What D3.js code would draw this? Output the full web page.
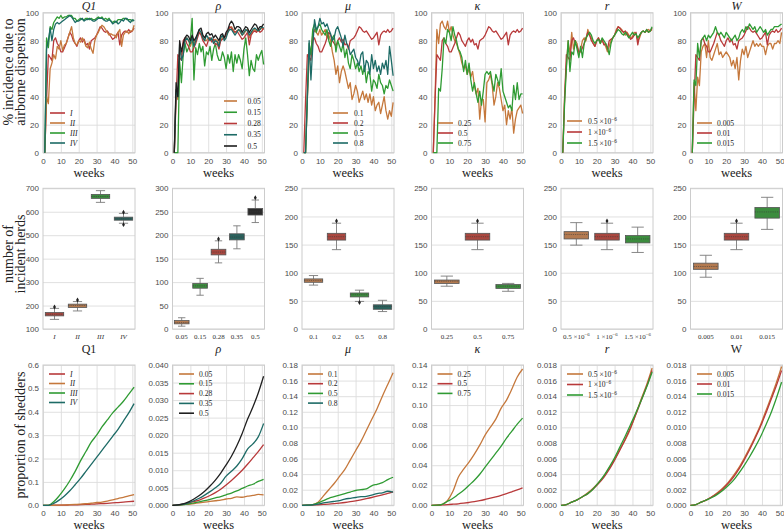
<!DOCTYPE html>
<html><head><meta charset="utf-8">
<script src="https://cdn.jsdelivr.net/npm/d3@7"></script>
<style>body{margin:0;background:#fff}</style>
</head><body><svg id="c" width="784" height="530"></svg>
<script>
// ---------------- DATA ----------------
const weeks = Array.from({length:51},(_, i)=>i+1);
const weeksB = [0,3,6,9,12,15,18,21,24,27,30,33,36,39,42,45,48,51];

// % incidence due to airborne dispersion (row 1)
const airBase = [0,38,70,68,66,80,82,78,76,72,72,75,78,82,86,84,80,78,76,80,82,79,81,77,78,74,80,81,82,84,87,90,89,87,86,87,85,83,81,82,84,86,77,84,86,87,86,88,86,87,89];
const airQ1_II = [0,40,35,60,64,70,67,76,74,80,73,77,78,82,86,90,82,78,77,80,79,82,80,76,75,79,74,71,80,84,86,89,91,90,88,86,84,85,84,84,82,86,88,76,84,86,87,85,87,87,91];
const airQ1_III = [0,82,75,90,88,93,95,97,96,98,96,97,97,98,98,98,96,96,94,95,96,95,95,96,96,95,96,95,95,96,97,96,97,95,96,95,96,94,93,94,93,95,95,95,96,96,95,95,95,94,95];
const airQ1_IV = [0,74,80,89,80,88,92,93,92,93,94,95,96,97,98,97,95,93,94,94,95,96,94,95,95,96,95,94,94,95,96,96,96,95,94,94,95,94,92,93,94,92,93,95,94,96,96,94,93,95,94];
const airRho_005 = [0,42,38,72,70,76,80,82,80,76,80,78,81,84,86,85,82,80,80,82,82,80,80,81,80,78,80,82,82,84,86,89,90,88,86,87,88,86,84,85,87,88,82,85,87,88,87,87,88,89,88];
const airRho_015 = [0,0,0,65,50,70,78,72,75,80,96,52,75,70,78,72,76,62,72,70,76,66,74,78,70,66,66,72,68,60,70,64,72,58,70,64,70,66,60,74,82,70,55,66,60,58,70,66,70,73,63];
const airRho_035 = [0,45,40,78,66,70,80,82,80,78,82,76,80,84,88,86,82,80,84,82,80,82,78,80,79,76,82,84,80,82,86,88,88,86,84,86,88,87,84,86,88,87,84,86,88,89,88,87,88,90,89];
const airRho_05 = [0,50,40,80,72,78,82,84,83,80,84,80,82,85,88,89,84,82,85,86,84,85,82,84,82,80,84,85,82,86,88,92,94,92,88,90,90,89,86,88,90,89,86,88,90,92,91,88,90,90,92];
const airMu_01 = [0,0,38,68,72,84,88,86,84,88,84,86,88,82,84,80,72,66,56,62,50,58,62,58,52,46,50,38,42,48,44,36,40,44,38,42,36,42,34,40,30,34,36,28,34,40,30,24,30,26,36];
const airMu_05 = [0,0,40,78,70,88,92,86,90,92,88,86,84,88,80,76,82,84,72,80,76,72,78,68,74,64,60,70,66,60,64,58,62,56,62,50,58,56,44,52,50,46,56,50,48,42,48,46,52,48,44];
const airMu_08 = [0,0,40,80,52,75,95,88,90,96,92,93,90,92,88,85,80,82,88,90,86,82,76,84,78,76,70,72,74,68,66,62,70,72,58,66,64,56,70,60,66,58,62,56,64,60,66,56,76,66,55];
const airKappa_025 = [0,40,88,78,92,94,90,88,94,86,90,84,80,78,74,70,64,60,62,56,60,54,58,48,42,46,24,38,38,22,50,52,56,48,34,40,50,46,38,30,34,20,30,24,32,14,24,30,32,34,28];
const airKappa_075 = [0,0,0,46,44,60,82,78,88,86,80,90,84,80,74,72,68,58,66,56,64,52,44,50,42,36,44,34,44,56,58,56,58,50,44,56,52,48,60,44,40,36,32,34,30,48,38,50,38,42,42];
const airR_05 = [0,40,62,80,70,86,74,80,78,70,74,80,82,80,88,84,82,78,76,80,82,78,80,78,76,72,76,80,82,84,88,90,89,88,86,84,86,84,82,83,86,85,80,82,86,87,86,87,88,87,88];
const airR_15 = [0,35,60,80,58,72,70,80,74,68,76,68,78,82,84,86,84,80,78,80,81,78,82,80,78,75,70,78,82,84,86,88,87,85,84,86,84,82,84,86,84,85,82,84,86,87,86,88,86,87,90];
const airW_0005 = [0,50,30,54,48,72,76,78,68,80,68,66,70,74,78,70,72,68,70,72,70,68,62,66,60,68,52,66,74,70,76,68,72,76,80,76,78,76,78,76,76,70,76,78,78,74,78,78,80,78,86];
const airW_0015 = [0,52,48,78,68,80,82,84,80,84,82,84,86,90,86,84,86,84,82,86,84,82,80,82,84,80,82,86,88,86,90,88,92,90,88,90,86,88,90,88,86,88,84,86,88,88,90,90,90,91,92];

// proportion of shedders (row 3)
const shedBase = [0,0.0001,0.0004,0.0007,0.0011,0.0015,0.0021,0.0028,0.0036,0.0046,0.0058,0.0071,0.0085,0.0100,0.0117,0.0135,0.0153,0.0173];
const shedQ1_II = [0,0,0.0003,0.0008,0.0015,0.0025,0.0037,0.005,0.0068,0.0088,0.012,0.014,0.018,0.023,0.029,0.034,0.04,0.046];
const shedQ1_III = [0,0,0.015,0.04,0.07,0.105,0.145,0.19,0.23,0.27,0.30,0.335,0.365,0.395,0.42,0.445,0.475,0.505];
const shedQ1_IV = [0,0,0.008,0.022,0.04,0.062,0.088,0.115,0.145,0.175,0.205,0.235,0.265,0.295,0.325,0.36,0.395,0.435];
const shedRho_005 = [0,0,0.0002,0.0003,0.0005,0.0007,0.0009,0.0011,0.0013,0.0015,0.0018,0.002,0.0024,0.0023,0.0026,0.0028,0.0031,0.003];
const shedRho_015 = [0,0,0.0002,0.0004,0.0007,0.001,0.0013,0.0017,0.0021,0.0025,0.003,0.0035,0.0041,0.0048,0.0055,0.006,0.0068,0.0074];
const shedRho_035 = [0,0.0001,0.0003,0.0007,0.0013,0.002,0.0029,0.0039,0.005,0.0063,0.0083,0.0097,0.0112,0.0133,0.016,0.0175,0.0195,0.0233];
const shedRho_05 = [0,0.0001,0.0004,0.001,0.0018,0.0028,0.004,0.0055,0.0072,0.0092,0.0115,0.014,0.017,0.0205,0.0245,0.028,0.032,0.0368];
const shedMu_01 = [0,0.0002,0.001,0.004,0.012,0.02,0.028,0.037,0.046,0.058,0.07,0.082,0.096,0.11,0.124,0.14,0.155,0.17];
const shedMu_05 = [0,0.0002,0.0008,0.003,0.006,0.009,0.011,0.013,0.015,0.017,0.019,0.02,0.021,0.025,0.027,0.029,0.033,0.036];
const shedMu_08 = [0,0.0001,0.0005,0.0015,0.003,0.004,0.005,0.006,0.008,0.009,0.01,0.011,0.0115,0.013,0.015,0.016,0.018,0.017];
const shedKappa_025 = [0,0.0002,0.001,0.005,0.014,0.028,0.036,0.043,0.051,0.06,0.07,0.078,0.086,0.097,0.105,0.116,0.128,0.136];
const shedKappa_075 = [0,0.0001,0.001,0.004,0.007,0.011,0.015,0.02,0.025,0.031,0.038,0.045,0.052,0.059,0.067,0.074,0.081,0.087];
const shedR_05 = [0,0.0001,0.0004,0.0007,0.0011,0.0016,0.0022,0.0029,0.0037,0.0048,0.0059,0.0072,0.0084,0.0099,0.0118,0.0137,0.0155,0.0176];
const shedR_15 = [0,0.0001,0.0004,0.0007,0.0011,0.0015,0.0021,0.0029,0.0038,0.0049,0.0061,0.0075,0.0089,0.0104,0.0119,0.0135,0.0152,0.0171];
const shedW_0005 = [0,0.0001,0.0004,0.0007,0.0011,0.0016,0.0022,0.0029,0.0038,0.0048,0.006,0.0073,0.0087,0.0102,0.012,0.0138,0.0157,0.0178];
const shedW_0015 = [0,0.0001,0.0004,0.0007,0.001,0.0014,0.0019,0.0025,0.0032,0.0041,0.0051,0.0062,0.0074,0.0087,0.0102,0.0118,0.0137,0.0158];

// number of incident herds (row 2) : [low whisker, q1, median, q3, high whisker]
const boxBase = [141,158,164,170,188];
const boxQ1 = [[141,156,163,170,188],[177,192,200,206,217],[640,657,665,674,690],[551,564,570,577,593]];
const flierQ1 = [[194],[224],[],[598,545]];
const boxRho = [[6,11,14,18,24],[72,87,92,97,108],boxBase,[171,190,196,203,220],[227,243,250,257,275]];
const flierRho = [[],[],[192],[],[280]];
const boxMu = [[78,83,86,89,95],boxBase,[49,57,61,64,69],[31,35,40,43,51]];
const flierMu = [[],[192],[47],[]];
const boxKappa = [[76,81,85,87,94],boxBase,[67,72,76,79,81]];
const flierKappa = [[],[192],[]];
const boxR = [[149,160,168,173,189],boxBase,[136,153,160,166,181]];
const flierR = [[],[192],[]];
const boxW = [[92,106,111,117,131],boxBase,[177,197,208,216,234]];
const flierW = [[],[192],[]];

// labels
const lblQ1 = ["I","II","III","IV"];
const lblRho = ["0.05","0.15","0.28","0.35","0.5"];
const lblMu = ["0.1","0.2","0.5","0.8"];
const lblKappa = ["0.25","0.5","0.75"];
const lblR = ["0.5 ×10^−6","1 ×10^−6","1.5 ×10^−6"];
const lblW = ["0.005","0.01","0.015"];
const titlesTop = ["Q1","ρ","μ","κ","r","W"];
const titlesBot = ["Q1","ρ","μ","κ","r","W"];
const titlesBotItalic = [false,true,true,true,true,false];
const xTicks = [0,10,20,30,40,50];
const yTicksAir = [0,20,40,60,80,100];

// ---------------- STYLE ----------------
const COL = {orange:"#c5783c", red:"#b8393a", green:"#2f9b33", teal:"#1d6b66", black:"#1f1f1f"};
const BOXCOL = {orange:"#b37a50", red:"#a9473f", green:"#3c8c3e", teal:"#2a625d", black:"#2b2b2b"};
const SERIF = "'Liberation Serif','Times New Roman',serif";
const SANS = "'Liberation Sans',Arial,sans-serif";
const GRID = "#dcdcdc", SPINE = "#cccccc", TICK = "#4a4a4a";
const L0 = 43, DX = 129.5, PW = 92;
const R1 = {top:12.7, bot:152.7}, R2 = {top:188.3, bot:329}, R3 = {top:365, bot:505.3};

const svg = d3.select("#c");
svg.append("rect").attr("width",784).attr("height",530).attr("fill","#fff");

function richText(sel, str, size, italic) {
  const parts = str.split("^");
  sel.attr("font-family", SERIF).attr("font-size", size).attr("font-style", italic ? "italic" : "normal");
  sel.append("tspan").text(parts[0]);
  if (parts.length > 1) sel.append("tspan").attr("font-size", size*0.7).attr("dy", -size*0.4).text(parts[1]);
}

function gridAxes(g, x, y, R, yVals, fmt, xVals, vgrid, xPad) {
  const left = x.range()[0], right = x.range()[1];
  const ya = g.append("g").attr("transform", `translate(${left},0)`)
    .call(d3.axisLeft(y).tickValues(yVals).tickSize(-(right-left)).tickPadding(4).tickFormat(fmt));
  ya.select(".domain").remove();
  ya.selectAll("line").attr("stroke", GRID).attr("stroke-width", 0.9);
  ya.selectAll("text").attr("font-family", SANS).attr("font-size", 8).attr("fill", TICK);
  if (xVals) {
    const xa = g.append("g").attr("transform", `translate(0,${R.bot})`)
      .call(d3.axisBottom(x).tickValues(xVals).tickSize(-(R.bot-R.top)).tickPadding(xPad).tickFormat(d3.format("d")));
    xa.select(".domain").remove();
    xa.selectAll("line").attr("stroke", vgrid ? GRID : "none").attr("stroke-width", 0.9);
    xa.selectAll("text").attr("font-family", SANS).attr("font-size", 8).attr("fill", TICK);
  }
}

function frame(g, left, R) {
  g.append("rect").attr("x", left).attr("y", R.top).attr("width", PW).attr("height", R.bot-R.top)
    .attr("fill","none").attr("stroke", SPINE).attr("stroke-width", 1);
}

function legend(g, left, leg, labels, colors, italic) {
  labels.forEach((lb, i) => {
    const yy = leg.y0 + i*leg.dy;
    g.append("line").attr("x1", left+leg.x1).attr("x2", left+leg.x2).attr("y1", yy).attr("y2", yy)
      .attr("stroke", colors[i]).attr("stroke-width", 1.6);
    const t = g.append("text").attr("x", left+leg.tx).attr("y", yy+2.6).attr("fill", "#222");
    richText(t, lb, 7.6, italic);
  });
}

function linePanel(col, R, xs, spec, curve) {
  const left = L0 + col*DX;
  const g = svg.append("g");
  const x = d3.scaleLinear().domain([0, 51.5]).range([left, left+PW]);
  const y = d3.scaleLinear().domain(spec.yDomain).range([R.bot, R.top]);
  gridAxes(g, x, y, R, spec.yTicks, spec.fmt, xTicks, true, spec.xPad);
  frame(g, left, R);
  const line = d3.line().x((d,i)=>x(xs[i])).y(d=>y(d)).curve(curve);
  spec.series.forEach((s, i) => {
    g.append("path").attr("d", line(s)).attr("fill","none").attr("stroke", spec.colors[i])
      .attr("stroke-width", 1.3).attr("stroke-linejoin","round");
  });
  legend(g, left, spec.leg, spec.labels, spec.colors, spec.labIt);
  const t = g.append("text").attr("x", left+PW/2).attr("y", spec.titleY).attr("text-anchor","middle").attr("fill","#222");
  richText(t, spec.title, 12, spec.titleIt);
  g.append("text").attr("x", left+PW/2).attr("y", spec.weeksY).attr("text-anchor","middle")
    .attr("font-family", SERIF).attr("font-size", 12.5).attr("fill","#222").text("weeks");
}

function boxPanel(col, spec) {
  const R = R2;
  const left = L0 + col*DX;
  const g = svg.append("g");
  const x = d3.scaleBand().domain(spec.labels).range([left, left+PW]);
  const y = d3.scaleLinear().domain(spec.yDomain).range([R.bot, R.top]);
  gridAxes(g, x, y, R, spec.yTicks, d3.format("d"), null);
  frame(g, left, R);
  const bw = x.bandwidth()*spec.wFrac;
  spec.stats.forEach((s, i) => {
    const cx = x(spec.labels[i]) + x.bandwidth()/2;
    const [lo, q1, med, q3, hi] = s;
    const wc = "#7a7a7a";
    g.append("line").attr("x1",cx).attr("x2",cx).attr("y1",y(q3)).attr("y2",y(hi)).attr("stroke",wc).attr("stroke-width",0.9);
    g.append("line").attr("x1",cx).attr("x2",cx).attr("y1",y(q1)).attr("y2",y(lo)).attr("stroke",wc).attr("stroke-width",0.9);
    [lo, hi].forEach(v => g.append("line").attr("x1",cx-bw/4).attr("x2",cx+bw/4).attr("y1",y(v)).attr("y2",y(v)).attr("stroke",wc).attr("stroke-width",0.9));
    g.append("rect").attr("x",cx-bw/2).attr("y",y(q3)).attr("width",bw).attr("height",y(q1)-y(q3))
      .attr("fill",BOXCOL[spec.colors[i]]).attr("stroke","#555").attr("stroke-width",0.8);
    g.append("line").attr("x1",cx-bw/2).attr("x2",cx+bw/2).attr("y1",y(med)).attr("y2",y(med))
      .attr("stroke","#3a3a3a").attr("stroke-width",0.8).attr("stroke-dasharray","1.2,1").attr("opacity",0.7);
    spec.fliers[i].forEach(v => g.append("path").attr("d", d3.symbol().type(d3.symbolDiamond).size(7)())
      .attr("transform",`translate(${cx},${y(v)})`).attr("fill","#222"));
    const t = g.append("text").attr("x", cx).attr("y", 338.5).attr("text-anchor","middle").attr("fill","#333");
    richText(t, spec.labels[i], 7, spec.labIt);
  });
}

// ---------------- ROW 1 ----------------
const topSpecs = [
  {series:[airBase, airQ1_II, airQ1_III, airQ1_IV], colors:[COL.red,COL.orange,COL.green,COL.teal], labels:lblQ1, labIt:true, leg:{x1:7,x2:22,tx:27,y0:113,dy:10}},
  {series:[airRho_005, airRho_015, airBase, airRho_035, airRho_05], colors:[COL.orange,COL.green,COL.red,COL.teal,COL.black], labels:lblRho, leg:{x1:51.5,x2:64.5,tx:75,y0:101,dy:11.25}},
  {series:[airMu_01, airBase, airMu_05, airMu_08], colors:[COL.orange,COL.red,COL.green,COL.teal], labels:lblMu, leg:{x1:31,x2:46,tx:52,y0:113,dy:10}},
  {series:[airKappa_025, airBase, airKappa_075], colors:[COL.orange,COL.red,COL.green], labels:lblKappa, leg:{x1:6.5,x2:21.5,tx:26.5,y0:123,dy:10}},
  {series:[airR_05, airBase, airR_15], colors:[COL.orange,COL.red,COL.green], labels:lblR, leg:{x1:6,x2:21,tx:27,y0:121,dy:11}},
  {series:[airW_0005, airBase, airW_0015], colors:[COL.orange,COL.red,COL.green], labels:lblW, leg:{x1:6.5,x2:21.5,tx:26.5,y0:123,dy:10}}
];
topSpecs.forEach((s, i) => linePanel(i, R1, weeks, Object.assign({
  yDomain:[0,100], yTicks:yTicksAir, fmt:d3.format("d"), xPad:5.5,
  title:titlesTop[i], titleIt:true, titleY:9.5, weeksY:177
}, s), d3.curveLinear));

// ---------------- ROW 2 ----------------
const boxSpecs = [
  {stats:boxQ1, fliers:flierQ1, labels:lblQ1, labIt:true, colors:["red","orange","green","teal"], yDomain:[100,700], yTicks:[100,200,300,400,500,600,700], wFrac:0.8},
  {stats:boxRho, fliers:flierRho, labels:lblRho, colors:["orange","green","red","teal","black"], yDomain:[0,300], yTicks:[0,50,100,150,200,250,300], wFrac:0.8},
  {stats:boxMu, fliers:flierMu, labels:lblMu, colors:["orange","red","green","teal"], yDomain:[0,250], yTicks:[0,50,100,150,200,250], wFrac:0.8},
  {stats:boxKappa, fliers:flierKappa, labels:lblKappa, colors:["orange","red","green"], yDomain:[0,250], yTicks:[0,50,100,150,200,250], wFrac:0.8},
  {stats:boxR, fliers:flierR, labels:lblR, colors:["orange","red","green"], yDomain:[0,250], yTicks:[0,50,100,150,200,250], wFrac:0.8},
  {stats:boxW, fliers:flierW, labels:lblW, colors:["orange","red","green"], yDomain:[0,250], yTicks:[0,50,100,150,200,250], wFrac:0.8}
];
boxSpecs.forEach((s, i) => boxPanel(i, s));

// ---------------- ROW 3 ----------------
const botSpecs = [
  {series:[shedBase, shedQ1_II, shedQ1_III, shedQ1_IV], colors:[COL.red,COL.orange,COL.green,COL.teal], labels:lblQ1, labIt:true, yDomain:[0,0.6], yTicks:[0,0.1,0.2,0.3,0.4,0.5,0.6], fmt:d3.format(".1f"), leg:{x1:6,x2:22,tx:27,y0:374,dy:9.5}},
  {series:[shedRho_005, shedRho_015, shedBase, shedRho_035, shedRho_05], colors:[COL.orange,COL.green,COL.red,COL.teal,COL.black], labels:lblRho, yDomain:[0,0.04], yTicks:[0,0.005,0.01,0.015,0.02,0.025,0.03,0.035,0.04], fmt:d3.format(".3f"), leg:{x1:6.5,x2:21.5,tx:26.5,y0:374,dy:9.8}},
  {series:[shedMu_01, shedBase, shedMu_05, shedMu_08], colors:[COL.orange,COL.red,COL.green,COL.teal], labels:lblMu, yDomain:[0,0.18], yTicks:[0,0.02,0.04,0.06,0.08,0.1,0.12,0.14,0.16,0.18], fmt:d3.format(".2f"), leg:{x1:6,x2:21,tx:26,y0:374,dy:9.7}},
  {series:[shedKappa_025, shedBase, shedKappa_075], colors:[COL.orange,COL.red,COL.green], labels:lblKappa, yDomain:[0,0.14], yTicks:[0,0.02,0.04,0.06,0.08,0.1,0.12,0.14], fmt:d3.format(".2f"), leg:{x1:6,x2:21,tx:26,y0:374,dy:9.7}},
  {series:[shedR_05, shedBase, shedR_15], colors:[COL.orange,COL.red,COL.green], labels:lblR, yDomain:[0,0.018], yTicks:[0,0.002,0.004,0.006,0.008,0.01,0.012,0.014,0.016,0.018], fmt:d3.format(".3f"), leg:{x1:6,x2:22,tx:27,y0:374,dy:10.5}},
  {series:[shedW_0005, shedBase, shedW_0015], colors:[COL.orange,COL.red,COL.green], labels:lblW, yDomain:[0,0.018], yTicks:[0,0.002,0.004,0.006,0.008,0.01,0.012,0.014,0.016,0.018], fmt:d3.format(".3f"), leg:{x1:6.5,x2:21.5,tx:26.5,y0:374,dy:10}}
];
botSpecs.forEach((s, i) => linePanel(i, R3, weeksB, Object.assign({
  xPad:5, title:titlesBot[i], titleIt:titlesBotItalic[i], titleY:353, weeksY:528.5
}, s), d3.curveMonotoneX));

// ---------------- Y LABELS ----------------
function ylab(lines, xs, cy) {
  lines.forEach((ln, i) => {
    svg.append("text").attr("transform", `translate(${xs[i]},${cy}) rotate(-90)`).attr("text-anchor","middle")
      .attr("font-family", SERIF).attr("font-size", 14).attr("fill","#222").text(ln);
  });
}
ylab(["% incidence due to","airborne dispersion"], [13, 25], 72);
ylab(["number of","incident herds"], [13, 25], 254);
ylab(["proportion of shedders"], [25], 435);
</script></body></html>
